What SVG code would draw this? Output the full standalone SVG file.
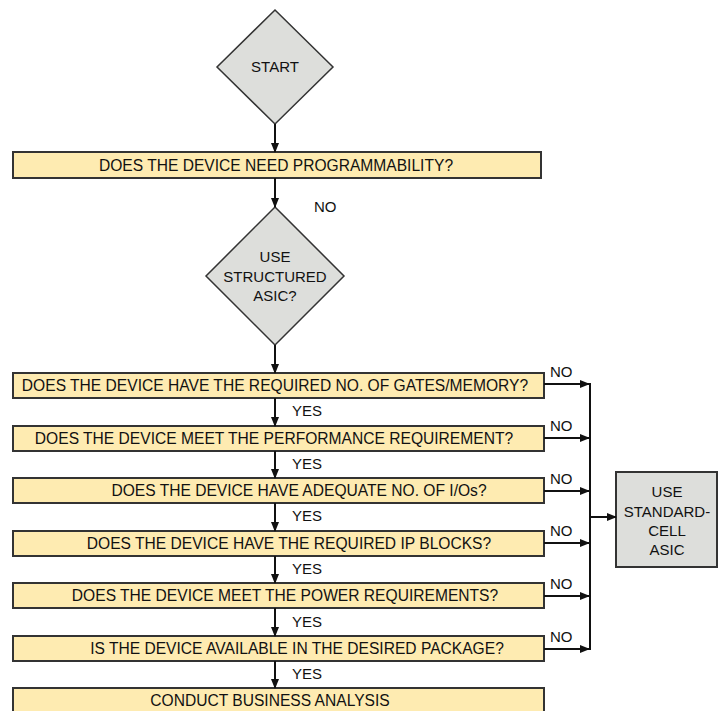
<svg xmlns="http://www.w3.org/2000/svg" width="721" height="711" viewBox="0 0 721 711">
<defs>
<marker id="ah" markerWidth="10" markerHeight="8" refX="9" refY="4" orient="auto" markerUnits="userSpaceOnUse">
<path d="M0,0 L10,4 L0,8 Z" fill="#111"/>
</marker>
<style>
.box{fill:#FEEBB1;stroke:#333;stroke-width:2}
.dia{fill:#DDDEDB;stroke:#333;stroke-width:1.5}
.gbox{fill:#DDDEDB;stroke:#333;stroke-width:2}
text{font-family:"Liberation Sans",Arial,sans-serif;font-size:15px;fill:#111}
.bt{font-size:15.6px}
.c{text-anchor:middle}
.ln{stroke:#111;stroke-width:2;fill:none}
.la{stroke:#111;stroke-width:2;fill:none;marker-end:url(#ah)}
</style>
</defs>
<rect width="721" height="711" fill="#fff"/>
<g id="start">
<polygon class="dia" points="275,10 333,67 275,124 217,67"/>
<text class="c" x="275" y="72">START</text>
</g>
<g id="q-prog">
<rect class="box" x="13" y="152" width="528" height="26"/>
<text class="c bt" x="276" y="170.5">DOES THE DEVICE NEED PROGRAMMABILITY?</text>
</g>
<g id="q-structured">
<polygon class="dia" points="275,207 344,276 275,345 206,276"/>
<text class="c" x="275" y="262">USE</text>
<text class="c" x="275" y="281.5">STRUCTURED</text>
<text class="c" x="275" y="301">ASIC?</text>
</g>
<g id="q-gates">
<rect class="box" x="13" y="373" width="531" height="25"/>
<text class="c bt" x="275" y="391">DOES THE DEVICE HAVE THE REQUIRED NO. OF GATES/MEMORY?</text>
</g>
<g id="q-perf">
<rect class="box" x="13" y="426" width="531" height="25"/>
<text class="c bt" x="274" y="444">DOES THE DEVICE MEET THE PERFORMANCE REQUIREMENT?</text>
</g>
<g id="q-io">
<rect class="box" x="13" y="478" width="531" height="25"/>
<text class="c bt" x="299" y="496">DOES THE DEVICE HAVE ADEQUATE NO. OF I/Os?</text>
</g>
<g id="q-ip">
<rect class="box" x="13" y="531" width="531" height="25"/>
<text class="c bt" x="289" y="549">DOES THE DEVICE HAVE THE REQUIRED IP BLOCKS?</text>
</g>
<g id="q-power">
<rect class="box" x="13" y="583" width="531" height="25"/>
<text class="c bt" x="285" y="601">DOES THE DEVICE MEET THE POWER REQUIREMENTS?</text>
</g>
<g id="q-package">
<rect class="box" x="13" y="636" width="531" height="25"/>
<text class="c bt" x="297" y="654">IS THE DEVICE AVAILABLE IN THE DESIRED PACKAGE?</text>
</g>
<g id="business">
<rect class="box" x="13" y="688" width="531" height="30"/>
<text class="c bt" x="270" y="706">CONDUCT BUSINESS ANALYSIS</text>
</g>
<g id="std-cell">
<rect class="gbox" x="616" y="472" width="101" height="95"/>
<text class="c" x="667" y="497">USE</text>
<text class="c" x="667" y="516.5">STANDARD-</text>
<text class="c" x="667" y="536">CELL</text>
<text class="c" x="667" y="555">ASIC</text>
</g>
<g id="connectors">
<line class="la" x1="275" y1="124" x2="275" y2="152"/>
<line class="la" x1="275" y1="178" x2="275" y2="207"/>
<line class="la" x1="275" y1="345" x2="275" y2="373"/>
<line class="la" x1="275" y1="398" x2="275" y2="426"/>
<line class="la" x1="275" y1="451" x2="275" y2="478"/>
<line class="la" x1="275" y1="503" x2="275" y2="531"/>
<line class="la" x1="275" y1="556" x2="275" y2="583"/>
<line class="la" x1="275" y1="608" x2="275" y2="636"/>
<line class="la" x1="275" y1="661" x2="275" y2="688"/>
<line class="la" x1="544" y1="384" x2="589" y2="384"/>
<line class="la" x1="544" y1="438" x2="589" y2="438"/>
<line class="la" x1="544" y1="491" x2="589" y2="491"/>
<line class="la" x1="544" y1="543" x2="589" y2="543"/>
<line class="la" x1="544" y1="596" x2="589" y2="596"/>
<line class="la" x1="544" y1="649" x2="589" y2="649"/>
<line class="ln" x1="590" y1="383" x2="590" y2="650"/>
<line class="la" x1="590" y1="517" x2="616" y2="517"/>
<text x="314" y="212">NO</text>
<text x="292" y="416">YES</text>
<text x="292" y="469">YES</text>
<text x="292" y="521">YES</text>
<text x="292" y="574">YES</text>
<text x="292" y="627">YES</text>
<text x="292" y="679">YES</text>
<text x="550" y="377">NO</text>
<text x="550" y="431">NO</text>
<text x="550" y="484">NO</text>
<text x="550" y="536">NO</text>
<text x="550" y="589">NO</text>
<text x="550" y="642">NO</text>
</g>
</svg>
